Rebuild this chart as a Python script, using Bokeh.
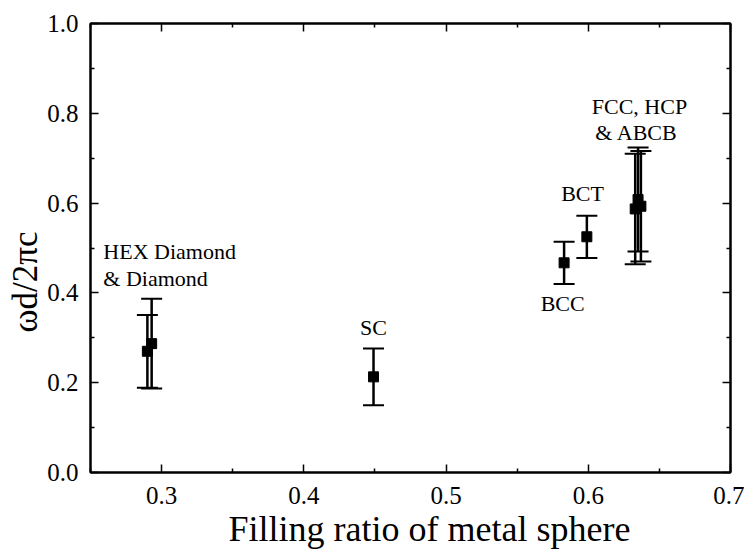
from bokeh.plotting import figure
from bokeh.models import (Whisker, ColumnDataSource, LinearAxis, FixedTicker, Range1d,
                          TeeHead, Label, PrintfTickFormatter, Title)
from bokeh.embed import file_html
from bokeh.resources import INLINE

# data
x_vals = [0.290, 0.293, 0.449, 0.583, 0.599, 0.633, 0.635, 0.637]
y_vals = [0.270, 0.287, 0.213, 0.467, 0.525, 0.587, 0.608, 0.593]
y_err = [0.081, 0.100, 0.063, 0.047, 0.047, 0.123, 0.116, 0.123]

x_ticks = [0.3, 0.4, 0.5, 0.6, 0.7]
y_ticks = [0.0, 0.2, 0.4, 0.6, 0.8, 1.0]
x_minor = [0.25, 0.35, 0.45, 0.55, 0.65]
y_minor = [0.1, 0.3, 0.5, 0.7, 0.9]

labels = ["HEX Diamond", "& Diamond", "SC", "BCC", "BCT", "FCC, HCP", "& ABCB"]
label_x = [0.259, 0.259, 0.449, 0.582, 0.596, 0.636, 0.634]
label_y = [0.493, 0.431, 0.322, 0.376, 0.622, 0.816, 0.758]
label_align = ["left", "left", "center", "center", "center", "center", "center"]

x_title = "Filling ratio of metal sphere"
y_title = "ωd/2πc"

FONT = "Liberation Serif"

src = ColumnDataSource(dict(
    x=x_vals, y=y_vals,
    lo=[y - e for y, e in zip(y_vals, y_err)],
    hi=[y + e for y, e in zip(y_vals, y_err)],
))

p = figure(width=744, height=551, output_backend="svg", toolbar_location=None,
           x_range=Range1d(0.25, 0.70), y_range=Range1d(0.0, 1.0),
           min_border_left=90, min_border_right=14, min_border_top=23, min_border_bottom=79)
p.background_fill_color = "white"
p.border_fill_color = "white"
p.grid.visible = False
p.outline_line_color = "black"
p.outline_line_width = 2

def style_axis(ax, ticks, minor, show_labels):
    ax.ticker = FixedTicker(ticks=ticks, minor_ticks=minor)
    ax.formatter = PrintfTickFormatter(format="%.1f")
    ax.major_tick_in = 8
    ax.major_tick_out = 0
    ax.minor_tick_in = 4
    ax.minor_tick_out = 0
    ax.axis_line_width = 2
    ax.major_tick_line_width = 1.5
    ax.minor_tick_line_width = 1.5
    ax.major_label_text_font = FONT
    ax.major_label_text_color = "black"
    if show_labels:
        ax.major_label_text_font_size = "25px"
    else:
        ax.major_label_text_font_size = "0px"
        ax.major_label_text_alpha = 0

style_axis(p.xaxis[0], x_ticks, x_minor, True)
style_axis(p.yaxis[0], y_ticks, y_minor, True)
p.xaxis[0].major_label_standoff = 14
p.yaxis[0].major_label_standoff = 12

right = LinearAxis()
style_axis(right, y_ticks, y_minor, False)
p.add_layout(right, "right")
top = LinearAxis()
style_axis(top, x_ticks, x_minor, False)
p.add_layout(top, "above")

w = Whisker(source=src, base="x", lower="lo", upper="hi", dimension="height",
            line_color="black", line_width=2.5,
            lower_head=TeeHead(size=21, line_width=2, line_color="black"),
            upper_head=TeeHead(size=21, line_width=2, line_color="black"))
p.add_layout(w)

p.scatter("x", "y", source=src, marker="square", size=10, fill_color="black", line_color="black")

for t, lx, ly, al in zip(labels, label_x, label_y, label_align):
    p.add_layout(Label(x=lx, y=ly, text=t, text_font=FONT, text_font_size="22px",
                       text_align=al, text_baseline="middle", text_color="black"))

# axis titles as side titles, so they can be offset like in the reference
p.add_layout(Title(text=x_title, align="left", offset=138, standoff=0,
                   text_font=FONT, text_font_size="36px", text_font_style="normal",
                   text_color="black"), "below")
p.add_layout(Title(text=y_title, align="left", offset=140, standoff=0,
                   text_font=FONT, text_font_size="35px", text_font_style="normal",
                   text_color="black"), "left")

open("out.html", "w").write(file_html(p, INLINE))
